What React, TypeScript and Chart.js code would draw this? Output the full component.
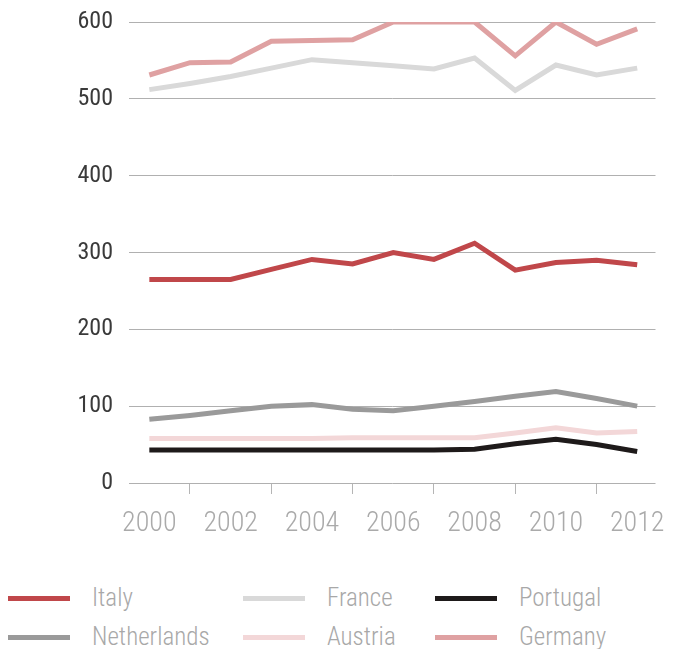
import React, { useEffect, useRef } from "react";
import { Chart, registerables } from "chart.js";

Chart.register(...registerables);

const years = [2000, 2001, 2002, 2003, 2004, 2005, 2006, 2007, 2008, 2009, 2010, 2011, 2012];
const italy = [265, 265, 265, 278, 291, 285, 300, 291, 312, 277, 287, 290, 284];
const france = [512, 520, 529, 540, 551, 547, 543, 539, 553, 511, 544, 531, 540];
const portugal = [43, 43, 43, 43, 43, 43, 43, 43, 44, 51, 57, 50, 41];
const netherlands = [83, 88, 94, 100, 102, 96, 94, 100, 106, 113, 119, 110, 100];
const austria = [58, 58, 58, 58, 58, 59, 59, 59, 59, 65, 72, 65, 67];
const germany = [531, 547, 548, 575, 576, 577, 600, 600, 600, 556, 600, 571, 591];

const seriesNames = ["Italy", "France", "Portugal", "Netherlands", "Austria", "Germany"];
const seriesValues = [italy, france, portugal, netherlands, austria, germany];
const seriesColors = ["#c0474a", "#d9d9d9", "#1e1a1a", "#9a9a9a", "#f3d7d8", "#dfa1a2"];

const FONT = '"Roboto Condensed", "DejaVu Sans Condensed", sans-serif';

const legendCols = [8, 243, 435];
const legendRows = [598, 637];

export default function App() {
  const ref = useRef<HTMLCanvasElement>(null);

  useEffect(() => {
    if (!ref.current) return;
    const chart = new Chart(ref.current, {
      type: "line",
      data: {
        datasets: seriesNames.map((name, i) => ({
          label: name,
          data: years.map((yr, j) => ({ x: yr, y: seriesValues[i][j] })),
          borderColor: seriesColors[i],
          backgroundColor: seriesColors[i],
          borderWidth: 5,
          pointRadius: 0,
          tension: 0,
          fill: false,
          borderJoinStyle: "miter" as const,
        })),
      },
      options: {
        responsive: false,
        animation: false,
        layout: { padding: { left: 78, right: 16, top: 22, bottom: 17 } },
        plugins: { legend: { display: false }, tooltip: { enabled: false } },
        scales: {
          x: {
            type: "linear",
            min: 1999.5,
            max: 2012.45,
            border: { display: false },
            afterFit: (s: any) => {
              s.height = 60;
            },
            grid: {
              drawOnChartArea: false,
              drawTicks: true,
              tickLength: 11,
              lineWidth: 1,
              color: (c: any) =>
                c.tick && Math.round(c.tick.value) % 2 === 1 ? "#b5b5b5" : "rgba(0,0,0,0)",
            },
            ticks: {
              stepSize: 1,
              includeBounds: false,
              autoSkip: false,
              maxRotation: 0,
              minRotation: 0,
              padding: 13,
              color: "#aaaaaa",
              font: { family: FONT, size: 28, weight: "300" },
              callback: (v: any) =>
                Math.round(Number(v)) % 2 === 0 ? String(Math.round(Number(v))) : "",
            },
          },
          y: {
            min: 0,
            max: 600,
            border: { display: false },
            afterFit: (s: any) => {
              s.width = 51;
            },
            grid: {
              drawTicks: true,
              tickLength: 16,
              tickColor: "rgba(0,0,0,0)",
              color: "#b0b0b0",
              lineWidth: 1,
            },
            ticks: {
              stepSize: 100,
              padding: 0,
              color: "#3a3a3a",
              font: { family: FONT, size: 24, weight: "400" },
            },
          },
        },
      },
    });
    return () => chart.destroy();
  }, []);

  return (
    <div
      style={{
        position: "absolute",
        left: 0,
        top: 0,
        width: 678,
        height: 649,
        background: "#ffffff",
        overflow: "hidden",
      }}
    >
      <canvas ref={ref} width={678} height={560} style={{ position: "absolute", left: 0, top: 0 }} />
      {seriesNames.map((name, i) => {
        const col = i % 3;
        const row = Math.floor(i / 3);
        return (
          <div
            key={name}
            style={{
              position: "absolute",
              left: legendCols[col],
              top: legendRows[row] - 20,
              height: 40,
              display: "flex",
              alignItems: "center",
              whiteSpace: "nowrap",
            }}
          >
            <div style={{ width: 62, height: 5, background: seriesColors[i] }} />
            <span
              style={{
                marginLeft: 22,
                fontFamily: FONT,
                fontWeight: 300,
                fontSize: 25,
                color: "#a8a8a8",
                lineHeight: "40px",
              }}
            >
              {name}
            </span>
          </div>
        );
      })}
    </div>
  );
}
